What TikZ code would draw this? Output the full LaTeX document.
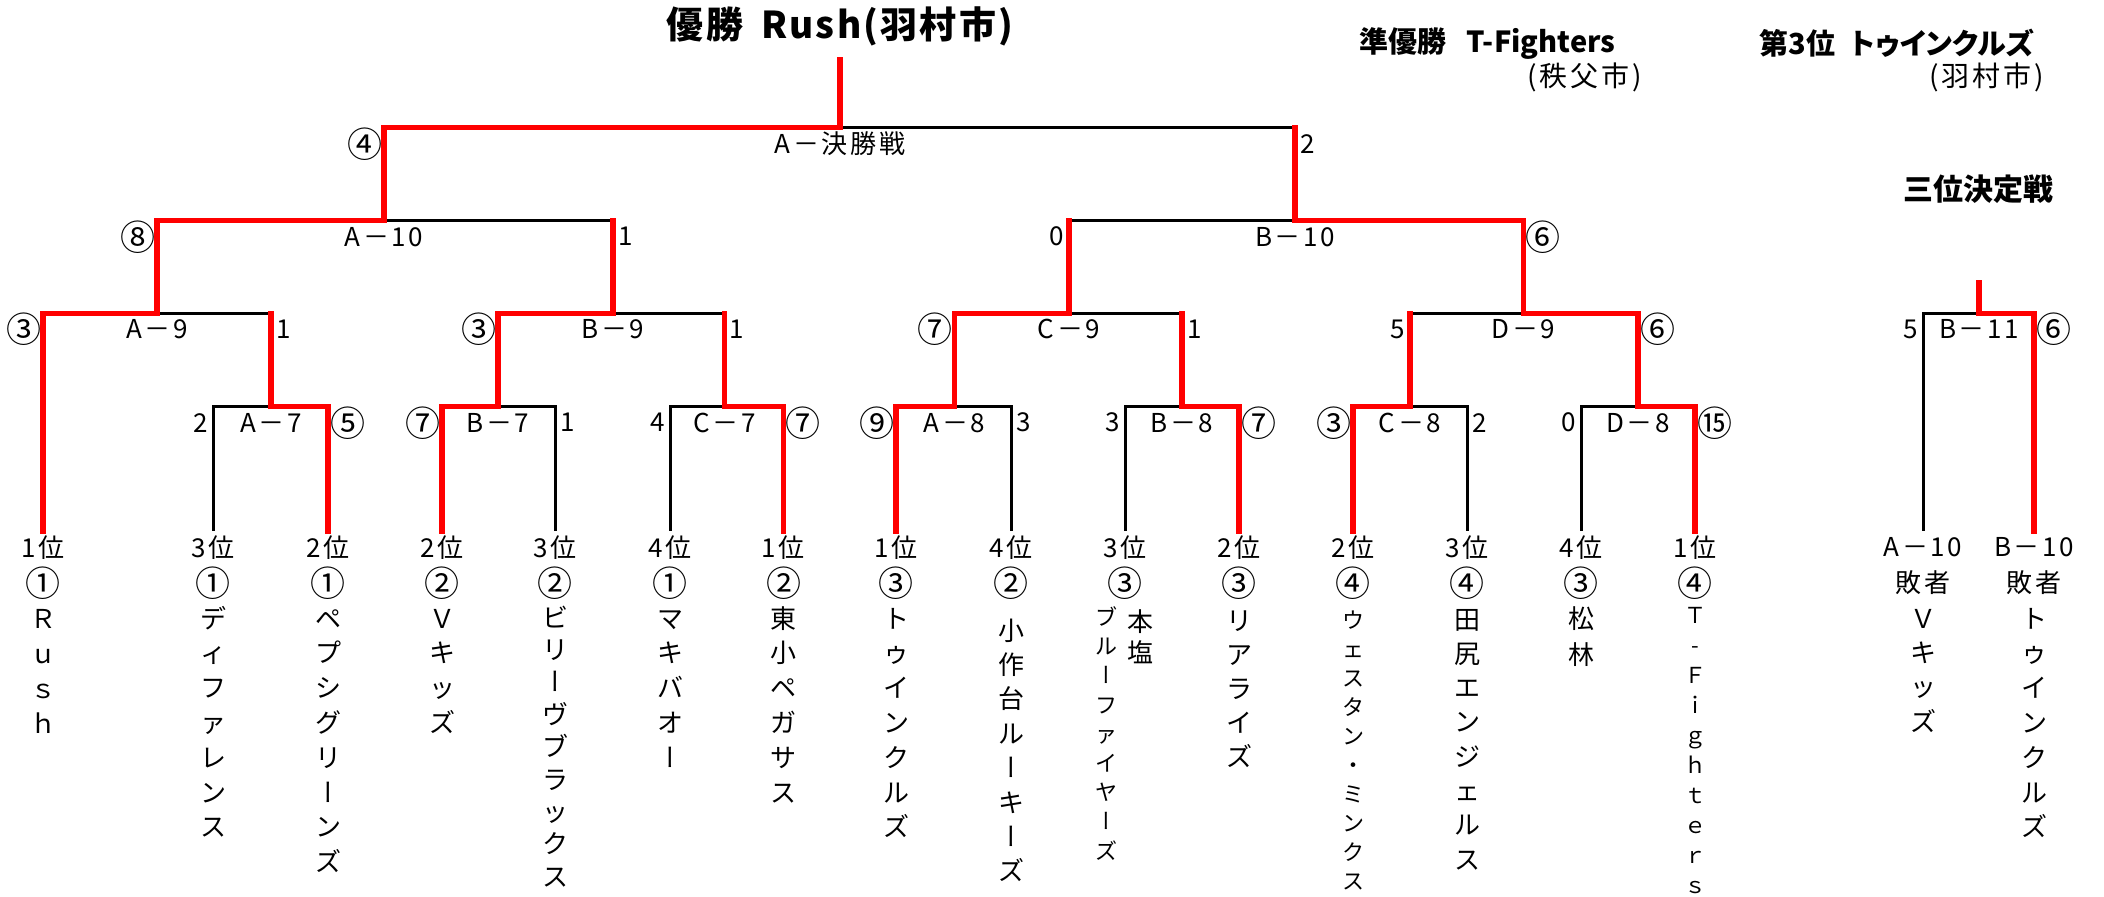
\documentclass[tikz,border=0pt]{standalone}
\usepackage{fontspec}
\setmainfont{Noto Sans CJK JP}
\newfontfamily\vjp{Noto Sans CJK JP}[RawFeature=+vert]
\newfontfamily\lsjp{Noto Sans CJK JP}[LetterSpace=10]
\newfontfamily\ttljp{Noto Sans CJK JP}[LetterSpace=6]
\newfontfamily\pjp{Noto Sans CJK JP}[RawFeature=+palt]
\newcommand\VB{{\vjp ー}}
\newcommand\cc[1]{{\fontsize{17.5pt}{18pt}\selectfont\rmfamily #1}}
\newcommand\stk[2]{\vtop{\baselineskip=#1\relax\lineskiplimit=-100pt\lineskip=0pt\halign{\hfil##\hfil\cr#2\crcr}}}
\begin{document}
\begin{tikzpicture}[x=0.5pt,y=-0.5pt,
  win/.style={line width=2.75pt, red, line join=miter, line cap=rect},
  lose/.style={line width=1.5pt, black},
  lab/.style={inner sep=0pt, font=\lsjp\fontsize{13pt}{15pt}\selectfont},
  mname/.style={lab, yshift=-8pt},
  lsc/.style={lab, anchor=east, xshift=-2.5pt, yshift=-8pt},
  rsc/.style={lab, anchor=west, xshift=2.5pt, yshift=-8pt},
  lcc/.style={inner sep=0pt, anchor=east, xshift=-0.6pt, yshift=-8pt},
  rcc/.style={inner sep=0pt, anchor=west, xshift=1pt, yshift=-8pt},
  nm/.style={inner sep=0pt, anchor=base, font=\fontsize{13pt}{15pt}\selectfont},
  nms/.style={inner sep=0pt, anchor=base, font=\fontsize{11pt}{13pt}\selectfont},
  hd/.style={inner sep=0pt, font=\bfseries\fontsize{14.5pt}{17pt}\selectfont},
  hdr/.style={inner sep=0pt, font=\lsjp\fontsize{14pt}{17pt}\selectfont}]
\fill[white] (0,0) rectangle (2104,896);
\useasboundingbox (0,0) rectangle (2104,896);

% leaves
\foreach \n/\x in {1/43,2/213,3/328,4/442,5/555,6/670,7/783.5,8/896,9/1011,10/1125,11/1239,12/1353,13/1467,14/1581,15/1695,16/1923,17/2034}
  \coordinate (l\n) at (\x,531);

% match junctions
\coordinate (top) at (840,60);
\coordinate (F) at (840,127.7);
\coordinate (A10) at (384,220.7);
\coordinate (B10) at (1295,220.7);
\coordinate (A9) at (157,313.3);
\coordinate (B9) at (613,313.3);
\coordinate (C9) at (1069,313.3);
\coordinate (D9) at (1523.5,313.3);
\coordinate (top3) at (1979,283);
\coordinate (B11) at (1979,313.3);
\coordinate (A7) at (271,406.7);
\coordinate (B7) at (498,406.7);
\coordinate (C7) at (724.5,406.7);
\coordinate (A8) at (954.5,406.7);
\coordinate (B8) at (1182,406.7);
\coordinate (C8) at (1410,406.7);
\coordinate (D8) at (1638,406.7);

% losing sides
\draw[lose] (F) -- (B10 |- F);
\draw[lose] (A10) -- (B9 |- A10);
\draw[lose] (B10) -- (C9 |- B10);
\draw[lose] (A9) -- (A7 |- A9);
\draw[lose] (B9) -- (C7 |- B9);
\draw[lose] (C9) -- (B8 |- C9);
\draw[lose] (D9) -- (C8 |- D9);
\draw[lose] (B11) -| (l16);
\draw[lose] (A7) -| (l2);
\draw[lose] (B7) -| (l5);
\draw[lose] (C7) -| (l6);
\draw[lose] (A8) -| (l9);
\draw[lose] (B8) -| (l10);
\draw[lose] (C8) -| (l13);
\draw[lose] (D8) -| (l14);

% winning paths
\draw[win] (top) -- (F) -| (A10);
\draw[win] (B10 |- F) -- (B10);
\draw[win] (A10) -| (A9);
\draw[win] (B9 |- A10) -- (B9);
\draw[win] (B10) -| (D9);
\draw[win] (C9 |- B10) -- (C9);
\draw[win] (A9) -| (l1);
\draw[win] (A7 |- A9) -- (A7);
\draw[win] (B9) -| (B7);
\draw[win] (C7 |- B9) -- (C7);
\draw[win] (C9) -| (A8);
\draw[win] (B8 |- C9) -- (B8);
\draw[win] (D9) -| (D8);
\draw[win] (C8 |- D9) -- (C8);
\draw[win] (top3) -- (B11) -| (l17);
\draw[win] (A7) -| (l3);
\draw[win] (B7) -| (l4);
\draw[win] (C7) -| (l7);
\draw[win] (A8) -| (l8);
\draw[win] (B8) -| (l11);
\draw[win] (C8) -| (l12);
\draw[win] (D8) -| (l15);

% match names
\node[mname] (nF) at (F) {A－決勝戦};
\node[mname] (nA10) at (A10) {A－10};
\node[mname] (nB10) at (B10) {B－10};
\node[mname] (nA9) at (A9) {A－9};
\node[mname] (nB9) at (B9) {B－9};
\node[mname] (nC9) at (C9) {C－9};
\node[mname] (nD9) at (D9) {D－9};
\node[mname] (nB11) at (B11) {B－11};
\node[mname] (nA7) at (A7) {A－7};
\node[mname] (nB7) at (B7) {B－7};
\node[mname] (nC7) at (C7) {C－7};
\node[mname] (nA8) at (A8) {A－8};
\node[mname] (nB8) at (B8) {B－8};
\node[mname] (nC8) at (C8) {C－8};
\node[mname] (nD8) at (D8) {D－8};

% scores
\node[lcc] (sF1) at (A10 |- F) {\cc{④}};
\node[rsc] (sF2) at (B10 |- F) {2};
\node[lcc] (sA10a) at (A9 |- A10) {\cc{⑧}};
\node[rsc] (sA10b) at (B9 |- A10) {1};
\node[lsc] (sB10a) at (C9 |- B10) {0};
\node[rcc] (sB10b) at (D9 |- B10) {\cc{⑥}};
\node[lcc] (sA9a) at (l1 |- A9) {\cc{③}};
\node[rsc] (sA9b) at (A7 |- A9) {1};
\node[lcc] (sB9a) at (B7 |- B9) {\cc{③}};
\node[rsc] (sB9b) at (C7 |- B9) {1};
\node[lcc] (sC9a) at (A8 |- C9) {\cc{⑦}};
\node[rsc] (sC9b) at (B8 |- C9) {1};
\node[lsc] (sD9a) at (C8 |- D9) {5};
\node[rcc] (sD9b) at (D8 |- D9) {\cc{⑥}};
\node[lsc] (sB11a) at (l16 |- B11) {5};
\node[rcc] (sB11b) at (l17 |- B11) {\cc{⑥}};
\node[lsc] (sA7a) at (l2 |- A7) {2};
\node[rcc] (sA7b) at (l3 |- A7) {\cc{⑤}};
\node[lcc] (sB7a) at (l4 |- B7) {\cc{⑦}};
\node[rsc] (sB7b) at (l5 |- B7) {1};
\node[lsc] (sC7a) at (l6 |- C7) {4};
\node[rcc] (sC7b) at (l7 |- C7) {\cc{⑦}};
\node[lcc] (sA8a) at (l8 |- A8) {\cc{⑨}};
\node[rsc] (sA8b) at (l9 |- A8) {3};
\node[lsc] (sB8a) at (l10 |- B8) {3};
\node[rcc] (sB8b) at (l11 |- B8) {\cc{⑦}};
\node[lcc] (sC8a) at (l12 |- C8) {\cc{③}};
\node[rsc] (sC8b) at (l13 |- C8) {2};
\node[lsc] (sD8a) at (l14 |- D8) {0};
\node[rcc] (sD8b) at (l15 |- D8) {\cc{⑮}};

% ranks
\foreach \n/\r/\c in {1/1位/①,2/3位/①,3/2位/①,4/2位/②,5/3位/②,6/4位/①,7/1位/②,8/1位/③,9/4位/②,10/3位/③,11/2位/③,12/2位/④,13/3位/④,14/4位/③,15/1位/④}{
  \node[lab] (rk\n) at (l\n |- 0,548) {\r};
  \node[inner sep=0pt] (ck\n) at (l\n |- 0,583.5) {\cc{\c}};
}
\node[lab] (rk16) at (l16 |- 0,547) {A－10};
\node[lab] (ck16) at (l16 |- 0,583) {敗者};
\node[lab] (rk17) at (l17 |- 0,547) {B－10};
\node[lab] (ck17) at (l17 |- 0,583) {敗者};

% team names
\node[nm] (t1) at (l1 |- 0,628) {\stk{17.5pt}{Ｒ\cr ｕ\cr ｓ\cr ｈ}};
\node[nm] (t2) at (l2 |- 0,628) {\stk{17.4pt}{デ\cr ィ\cr フ\cr ァ\cr レ\cr ン\cr ス}};
\node[nm] (t3) at (l3 |- 0,628) {\stk{17.4pt}{ペ\cr プ\cr シ\cr グ\cr リ\cr \VB\cr ン\cr ズ}};
\node[nm] (t4) at (l4 |- 0,628) {\stk{17.4pt}{Ｖ\cr キ\cr ッ\cr ズ}};
\node[nm] (t5) at (l5 |- 0,627) {\stk{16.2pt}{ビ\cr リ\cr \VB\cr ヴ\cr ブ\cr ラ\cr ッ\cr ク\cr ス}};
\node[nm] (t6) at (l6 |- 0,628) {\stk{17.4pt}{マ\cr キ\cr バ\cr オ\cr \VB}};
\node[nm] (t7) at (l7 |- 0,628) {\stk{17.4pt}{東\cr 小\cr ペ\cr ガ\cr サ\cr ス}};
\node[nm] (t8) at (l8 |- 0,628) {\stk{17.4pt}{ト\cr ゥ\cr イ\cr ン\cr ク\cr ル\cr ズ}};
\node[nm] (t9) at (l9 |- 0,640) {\stk{17.2pt}{小\cr 作\cr 台\cr ル\cr \VB\cr キ\cr \VB\cr ズ}};
\node[nm] (t10a) at (1140,631) {\stk{15.75pt}{本\cr 塩}};
\node[nms] (t10b) at (1106,625.4) {\stk{14.6pt}{ブ\cr ル\cr \VB\cr フ\cr ァ\cr イ\cr ヤ\cr \VB\cr ズ}};
\node[nm] (t11) at (l11 |- 0,630) {\stk{17pt}{リ\cr ア\cr ラ\cr イ\cr ズ}};
\node[nms] (t12) at (l12 |- 0,628) {\stk{14.5pt}{ウ\cr ェ\cr ス\cr タ\cr ン\cr ・\cr ミ\cr ン\cr ク\cr ス}};
\node[nm] (t13) at (l13 |- 0,629) {\stk{17.15pt}{田\cr 尻\cr エ\cr ン\cr ジ\cr ェ\cr ル\cr ス}};
\node[nm] (t14) at (l14 |- 0,628) {\stk{18pt}{松\cr 林}};
\node[nms] (t15) at (l15 |- 0,623.4) {\stk{15pt}{Ｔ\cr -\cr Ｆ\cr ｉ\cr ｇ\cr ｈ\cr ｔ\cr ｅ\cr ｒ\cr ｓ}};
\node[nm] (t16) at (l16 |- 0,628) {\stk{17.2pt}{Ｖ\cr キ\cr ッ\cr ズ}};
\node[nm] (t17) at (l17 |- 0,628) {\stk{17.4pt}{ト\cr ゥ\cr イ\cr ン\cr ク\cr ル\cr ズ}};

% headings
\node[inner sep=0pt, font=\ttljp\bfseries\fontsize{18.5pt}{20pt}\selectfont] (title) at (840,26) {優勝\hspace{9pt}Rush(羽村市)};
\node[hd, anchor=west] (second) at (1359,43) {準優勝\hspace{10pt}T-Fighters};
\node[hdr, anchor=east] (secondc) at (1642,77) {(秩父市)};
\node[hd, font=\pjp\bfseries\fontsize{14.5pt}{17pt}\selectfont, anchor=west] (third) at (1759,43.5) {第3位\hspace{8pt}トゥインクルズ};
\node[hdr, anchor=east] (thirdc) at (2044,77.5) {(羽村市)};
\node[hd, font=\bfseries\fontsize{15pt}{17pt}\selectfont] (thirdm) at (1978,189.5) {三位決定戦};
\end{tikzpicture}
\end{document}
